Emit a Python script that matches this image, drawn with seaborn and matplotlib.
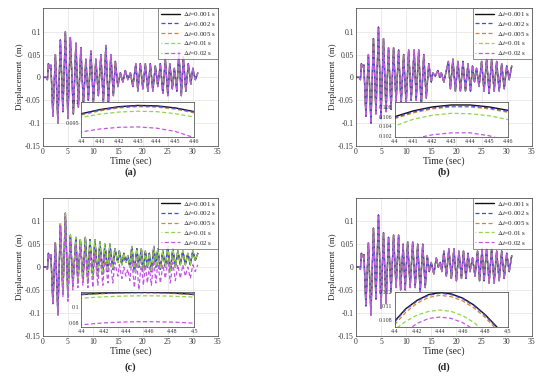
import matplotlib
matplotlib.use("Agg")
import matplotlib.pyplot as plt
import seaborn as sns

# ---- legend / series styling info ----
step_labels = ["$\\Delta t$=0.001 s", "$\\Delta t$=0.002 s", "$\\Delta t$=0.005 s",
               "$\\Delta t$=0.01 s", "$\\Delta t$=0.02 s"]
step_colors = ["#111111", "#4646d9", "#d2883c", "#8ed64a", "#c455e6"]

# ---- main time histories (extremes) ----
t_a = [0, 0.7, 0.9, 1.1, 1.4, 1.6, 2.0, 2.5, 3.0, 3.5, 4.0, 4.5, 5.0, 5.5,
       6.1, 6.6, 7.1, 7.6, 8.1, 8.6, 9.1, 9.6, 10.1, 10.6, 11.1, 11.6, 12.1, 12.6, 13.1, 13.6, 14.1,
       14.5, 15.0, 15.5, 16.0, 16.5, 17.0, 17.5, 18.0,
       18.6, 19.0, 19.5, 20.0, 20.5, 21.0, 21.5, 22.0, 22.5, 23.0, 23.5, 24.0, 24.5, 25.0,
       25.4, 25.9, 26.3, 26.8, 27.2, 27.7, 28.1, 28.6, 29.1, 29.6, 30.0, 30.5, 31.0]
d_a = [0, 0, -0.005, 0.03, 0.02, 0.027, -0.085, 0.05, -0.1, 0.082, -0.075, 0.1, -0.09, 0.087,
       -0.08, 0.075, -0.065, 0.065, -0.06, 0.04, -0.05, 0.058, -0.055, 0.04, -0.04, 0.05, -0.055, 0.07, -0.06, 0.05, -0.04,
       0.035, -0.02, 0.01, -0.01, 0.015, -0.005, 0.01, -0.02,
       0.03, -0.03, 0.03, -0.025, 0.03, -0.03, 0.03, -0.03, 0.025, -0.02, 0.03, -0.035, 0.04, -0.04,
       0.03, -0.025, 0.02, -0.03, 0.055, -0.04, 0.045, -0.03, 0.03, -0.015, 0.02, -0.005, 0.01]

t_b = [0, 0.7, 0.9, 1.1, 1.4, 1.6, 2.0, 2.5, 3.0, 3.5, 4.0, 4.5, 5.0, 5.5,
       6.0, 6.5, 7.0, 7.5, 8.0, 8.5, 9.0, 9.5, 10.0, 10.5, 11.0,
       11.6, 12.0, 12.5, 13.0, 13.5, 14.0, 14.5, 15.0,
       15.3, 15.8, 16.3, 16.7, 17.0, 17.5,
       18.4, 18.8, 19.3, 19.8, 20.3, 20.8, 21.3, 21.8, 22.3, 22.8, 23.2, 23.6, 24.0, 24.5,
       25.0, 25.5, 26.0, 26.5, 27.0, 27.5, 28.0, 28.5, 29.0, 29.5, 30.0, 30.5, 31.0]
d_b = [0, 0, -0.005, 0.03, 0.022, 0.027, -0.085, 0.05, -0.1, 0.085, -0.08, 0.11, -0.09, 0.085,
       -0.075, 0.065, -0.07, 0.065, -0.055, 0.06, -0.06, 0.05, -0.06, 0.06, -0.05,
       0.06, -0.05, 0.06, -0.065, 0.05, -0.045, 0.03, -0.01,
       0.01, 0.003, 0.015, 0.0, 0.01, -0.01,
       0.035, -0.025, 0.04, -0.03, 0.035, -0.03, 0.035, -0.03, 0.03, -0.03, 0.025, -0.01, 0.02, -0.02,
       0.035, -0.03, 0.04, -0.035, 0.04, -0.03, 0.035, -0.03, 0.03, -0.025, 0.025, -0.005, 0.025]

t_c = [0, 0.7, 0.9, 1.1, 1.4, 1.6, 2.0, 2.5, 3.0, 3.5, 4.0, 4.5, 5.0, 5.5,
       6.0, 6.6, 7.0, 7.5, 8.0, 8.5, 9.0, 9.4, 10.0, 10.4, 11.0, 11.4, 12.0, 12.4, 13.0, 13.4, 14.0, 14.4,
       15.0, 15.3, 15.8, 16.2, 16.6, 17.0, 17.4, 17.8,
       18.3, 18.8, 19.2, 19.7, 20.1, 20.5, 20.9, 21.3, 21.7, 22.2, 22.6, 23.0, 23.5, 24.0,
       24.5, 25.0, 25.5, 26.0, 26.5, 27.0, 27.5, 28.0, 28.5, 29.0, 29.5, 30.0, 30.5, 31.0]
d_c = [0, 0, -0.005, 0.03, 0.02, 0.027, -0.08, 0.053, -0.105, 0.095, -0.06, 0.118, -0.067, 0.07,
       -0.04, 0.065, -0.035, 0.06, -0.03, 0.065, -0.035, 0.06, -0.02, 0.06, -0.02, 0.055, -0.015, 0.05, -0.01, 0.05, -0.005, 0.04,
       0.01, 0.035, 0.005, 0.03, 0.01, 0.025, 0.0, 0.045,
       -0.01, 0.04, 0.0, 0.04, -0.01, 0.035, 0.0, 0.03, -0.01, 0.045, 0.0, 0.04, -0.005, 0.035,
       0.0, 0.045, -0.01, 0.04, 0.0, 0.035, 0.005, 0.035, 0.005, 0.03, 0.005, 0.035, 0.015, 0.03]
d_c02 = [0, 0, -0.005, 0.03, 0.02, 0.027, -0.08, 0.053, -0.105, 0.092, -0.065, 0.11, -0.075, 0.06,
         -0.05, 0.05, -0.045, 0.045, -0.04, 0.04, -0.045, 0.03, -0.045, 0.03, -0.04, 0.025, -0.04, 0.02, -0.035, 0.02, -0.035, 0.01,
         -0.02, 0.005, -0.025, 0.0, -0.02, -0.005, -0.03, 0.015,
         -0.045, 0.01, -0.05, 0.01, -0.04, 0.005, -0.035, 0.0, -0.04, 0.015, -0.035, 0.01, -0.035, 0.005,
         -0.025, 0.015, -0.035, 0.01, -0.03, 0.005, -0.025, 0.005, -0.02, 0.0, -0.025, 0.005, -0.01, 0.005]

t_d = [0, 0.7, 0.9, 1.1, 1.4, 1.6, 2.0, 2.5, 3.0, 3.5, 4.0, 4.5, 5.0, 5.5,
       6.0, 6.5, 7.0, 7.5, 8.0, 8.5, 8.9, 9.4, 9.8, 10.3, 10.8, 11.3, 11.8, 12.3, 12.8, 13.3, 13.8, 14.2,
       14.6, 15.0, 15.5, 16.0, 16.4, 16.8, 17.1, 17.5,
       18.0, 18.5, 19.0, 19.5, 20.0, 20.5, 21.0, 21.4, 21.9, 22.3, 22.7, 23.2, 23.7, 24.2,
       24.6, 25.1, 25.5, 26.0, 26.5, 27.0, 27.5, 28.0, 28.5, 29.0, 29.5, 30.0, 30.5, 31.0]
d_d = [0, 0, -0.005, 0.03, 0.022, 0.027, -0.085, 0.053, -0.105, 0.085, -0.07, 0.114, -0.09, 0.075,
       -0.08, 0.065, -0.055, 0.07, -0.045, 0.07, -0.05, 0.05, -0.05, 0.055, -0.045, 0.055, -0.045, 0.05, -0.055, 0.05, -0.045, 0.025,
       -0.01, 0.01, -0.015, 0.02, 0.0, 0.01, -0.01, 0.035,
       -0.02, 0.04, -0.025, 0.04, -0.03, 0.035, -0.025, 0.035, -0.025, 0.03, -0.01, 0.02, -0.02, 0.035,
       -0.03, 0.04, -0.03, 0.04, -0.035, 0.04, -0.035, 0.035, -0.03, 0.035, -0.025, 0.03, -0.01, 0.025]

# ---- zoomed peak around t = 4.4 s (insets) ----
ins_t_ab = [4.40, 4.41, 4.42, 4.43, 4.44, 4.45, 4.46]
ins_a_001 = [0.0972, 0.0982, 0.0989, 0.0992, 0.0991, 0.0986, 0.0977]
ins_a_002 = [0.0971, 0.0981, 0.0988, 0.0991, 0.0990, 0.0985, 0.0976]
ins_a_005 = [0.0969, 0.0979, 0.0986, 0.0989, 0.0988, 0.0983, 0.0974]
ins_a_01 = [0.0963, 0.0971, 0.0976, 0.0978, 0.0977, 0.0972, 0.0964]
ins_a_02 = [0.0928, 0.0935, 0.0939, 0.0940, 0.0937, 0.0929, 0.0914]

ins_b_001 = [0.1060, 0.1072, 0.1080, 0.1084, 0.1084, 0.1080, 0.1073]
ins_b_002 = [0.1058, 0.1070, 0.1078, 0.1082, 0.1082, 0.1078, 0.1071]
ins_b_005 = [0.1056, 0.1068, 0.1076, 0.1080, 0.1080, 0.1076, 0.1069]
ins_b_01 = [0.1041, 0.1055, 0.1063, 0.1067, 0.1066, 0.1062, 0.1054]
ins_b_02 = [0.1005, 0.1015, 0.1023, 0.1027, 0.1027, 0.1021, 0.1010]

ins_t_cd = [4.40, 4.41, 4.42, 4.43, 4.44, 4.45, 4.46, 4.47, 4.48, 4.49, 4.50]
ins_c_001 = [0.1160, 0.1168, 0.1175, 0.1180, 0.1183, 0.1185, 0.1185, 0.1183, 0.1178, 0.1170, 0.1160]
ins_c_002 = [0.1163, 0.1171, 0.1177, 0.1181, 0.1184, 0.1185, 0.1185, 0.1183, 0.1179, 0.1172, 0.1163]
ins_c_005 = [0.1155, 0.1163, 0.1170, 0.1175, 0.1178, 0.1180, 0.1180, 0.1178, 0.1173, 0.1165, 0.1155]
ins_c_01 = [0.1112, 0.1122, 0.1130, 0.1136, 0.1140, 0.1142, 0.1143, 0.1141, 0.1138, 0.1133, 0.1126]
ins_c_02 = [0.0775, 0.0789, 0.0800, 0.0807, 0.0812, 0.0815, 0.0815, 0.0813, 0.0810, 0.0804, 0.0797]

ins_d_001 = [0.1078, 0.1096, 0.1108, 0.1116, 0.1119, 0.1117, 0.1111, 0.1101, 0.1087, 0.1070, 0.1050]
ins_d_002 = [0.1077, 0.1095, 0.1107, 0.1115, 0.1118, 0.1116, 0.1110, 0.1100, 0.1086, 0.1069, 0.1049]
ins_d_005 = [0.1073, 0.1091, 0.1104, 0.1112, 0.1115, 0.1113, 0.1107, 0.1097, 0.1083, 0.1066, 0.1046]
ins_d_01 = [0.1066, 0.1078, 0.1087, 0.1092, 0.1094, 0.1092, 0.1086, 0.1076, 0.1062, 0.1045, 0.1025]
ins_d_02 = [0.1050, 0.1064, 0.1075, 0.1082, 0.1084, 0.1082, 0.1076, 0.1066, 0.1052, 0.1035, 0.1015]

sns.set_style("white")
plt.rcParams["font.family"] = ["Liberation Serif", "DejaVu Serif"]
plt.rcParams["mathtext.fontset"] = "stix"

# blue/orange dashes in one phase, green/magenta in the other, so the overlaid
# curves read as blue+magenta (purple) like the original
styles = ["-", (0, (3.2, 2.0)), (0, (3.2, 2.0)), (2.6, (3.2, 2.0)), (2.6, (3.2, 2.0))]
widths = [1.0, 0.9, 0.9, 0.9, 0.9]
zorders = [2.0, 2.2, 2.1, 2.3, 2.4]
EDGE = "#3a3a3a"


def style_box(ax, size):
    for sp in ax.spines.values():
        sp.set_visible(True)
        sp.set_color(EDGE)
        sp.set_linewidth(0.5)
    ax.tick_params(direction="in", length=2, width=0.4, labelsize=size,
                   colors="#333333", pad=1.5)


def draw_panel(ax, t_main, main_series, ins_t, ins_series, ins_xticks, ins_xlabels,
               ins_ylim, ins_yticks, ins_ylabels):
    for lab, col, ls, lw, z, d in zip(step_labels, step_colors, styles, widths, zorders, main_series):
        sns.lineplot(x=t_main, y=d, ax=ax, color=col, linestyle=ls, linewidth=lw, zorder=z,
                     label=lab, sort=False, estimator=None, legend=False)
    ax.set_xlim(0, 35)
    ax.set_ylim(-0.15, 0.152)
    ax.set_xticks([0, 5, 10, 15, 20, 25, 30, 35])
    ax.set_yticks([-0.15, -0.1, -0.05, 0, 0.05, 0.1])
    ax.set_yticklabels(["-0.15", "-0.1", "-0.05", "0", "0.05", "0.1"])
    ax.grid(True, color="#e3e3e3", linewidth=0.5)
    ax.set_xlabel("Time (sec)", fontsize=7, labelpad=0.5)
    ax.set_ylabel("Displacement  (m)", fontsize=6.5, labelpad=1)
    style_box(ax, 5.5)
    leg = ax.legend(loc="upper right", fontsize=5, frameon=True, fancybox=False,
                    borderpad=0.3, labelspacing=0.25, handlelength=2.8,
                    handletextpad=0.4, borderaxespad=0.0)
    leg.get_frame().set_edgecolor(EDGE)
    leg.get_frame().set_linewidth(0.5)
    leg.set_zorder(6)

    ins = ax.inset_axes([0.22, 0.063, 0.645, 0.255])
    ins.set_facecolor("white")
    for lab, col, ls, lw, z, d in zip(step_labels, step_colors, styles, widths, zorders, ins_series):
        sns.lineplot(x=ins_t, y=d, ax=ins, color=col, linestyle=ls, linewidth=lw, zorder=z,
                     sort=False, estimator=None, legend=False)
    ins.set_xlim(ins_xticks[0], ins_xticks[-1])
    ins.set_ylim(*ins_ylim)
    ins.set_xticks(ins_xticks)
    ins.set_xticklabels(ins_xlabels)
    ins.set_yticks(ins_yticks)
    ins.set_yticklabels(ins_ylabels)
    ins.set_xlabel("")
    ins.set_ylabel("")
    style_box(ins, 4.3)


fig = plt.figure(figsize=(5.5, 3.8), dpi=100)
ax_a = fig.add_axes([0.078, 0.616, 0.318, 0.363])
ax_b = fig.add_axes([0.647, 0.616, 0.320, 0.363])
ax_c = fig.add_axes([0.078, 0.117, 0.318, 0.363])
ax_d = fig.add_axes([0.647, 0.117, 0.320, 0.363])

xt_ab = [4.40, 4.41, 4.42, 4.43, 4.44, 4.45, 4.46]
xl_ab = ["4.4", "4.41", "4.42", "4.43", "4.44", "4.45", "4.46"]
xt_cd = [4.40, 4.42, 4.44, 4.46, 4.48, 4.50]
xl_cd = ["4.4", "4.42", "4.44", "4.46", "4.48", "4.5"]

draw_panel(ax_a, t_a, [d_a] * 5, ins_t_ab,
           [ins_a_001, ins_a_002, ins_a_005, ins_a_01, ins_a_02],
           xt_ab, xl_ab, (0.0915, 0.10002), [0.095, 0.1], ["0.095", "0.1"])
draw_panel(ax_b, t_b, [d_b] * 5, ins_t_ab,
           [ins_b_001, ins_b_002, ins_b_005, ins_b_01, ins_b_02],
           xt_ab, xl_ab, (0.1018, 0.1090), [0.102, 0.104, 0.106, 0.108],
           ["0.102", "0.104", "0.106", "0.108"])
draw_panel(ax_c, t_c, [d_c, d_c, d_c, d_c, d_c02], ins_t_cd,
           [ins_c_001, ins_c_002, ins_c_005, ins_c_01, ins_c_02],
           xt_cd, xl_cd, (0.075, 0.1195), [0.08, 0.1], ["0.08", "0.1"])
draw_panel(ax_d, t_d, [d_d] * 5, ins_t_cd,
           [ins_d_001, ins_d_002, ins_d_005, ins_d_01, ins_d_02],
           xt_cd, xl_cd, (0.107, 0.11202), [0.108, 0.110, 0.112], ["0.108", "0.11", "0.112"])

for ax, tag, gap in [(ax_a, "(a)", 0.068), (ax_b, "(b)", 0.068),
                     (ax_c, "(c)", 0.082), (ax_d, "(d)", 0.082)]:
    box = ax.get_position()
    fig.text((box.x0 + box.x1) / 2, box.y0 - gap, tag, ha="center", va="center",
             fontsize=7.5, fontweight="bold")

fig.savefig("out.png", dpi=100)
plt.close(fig)
